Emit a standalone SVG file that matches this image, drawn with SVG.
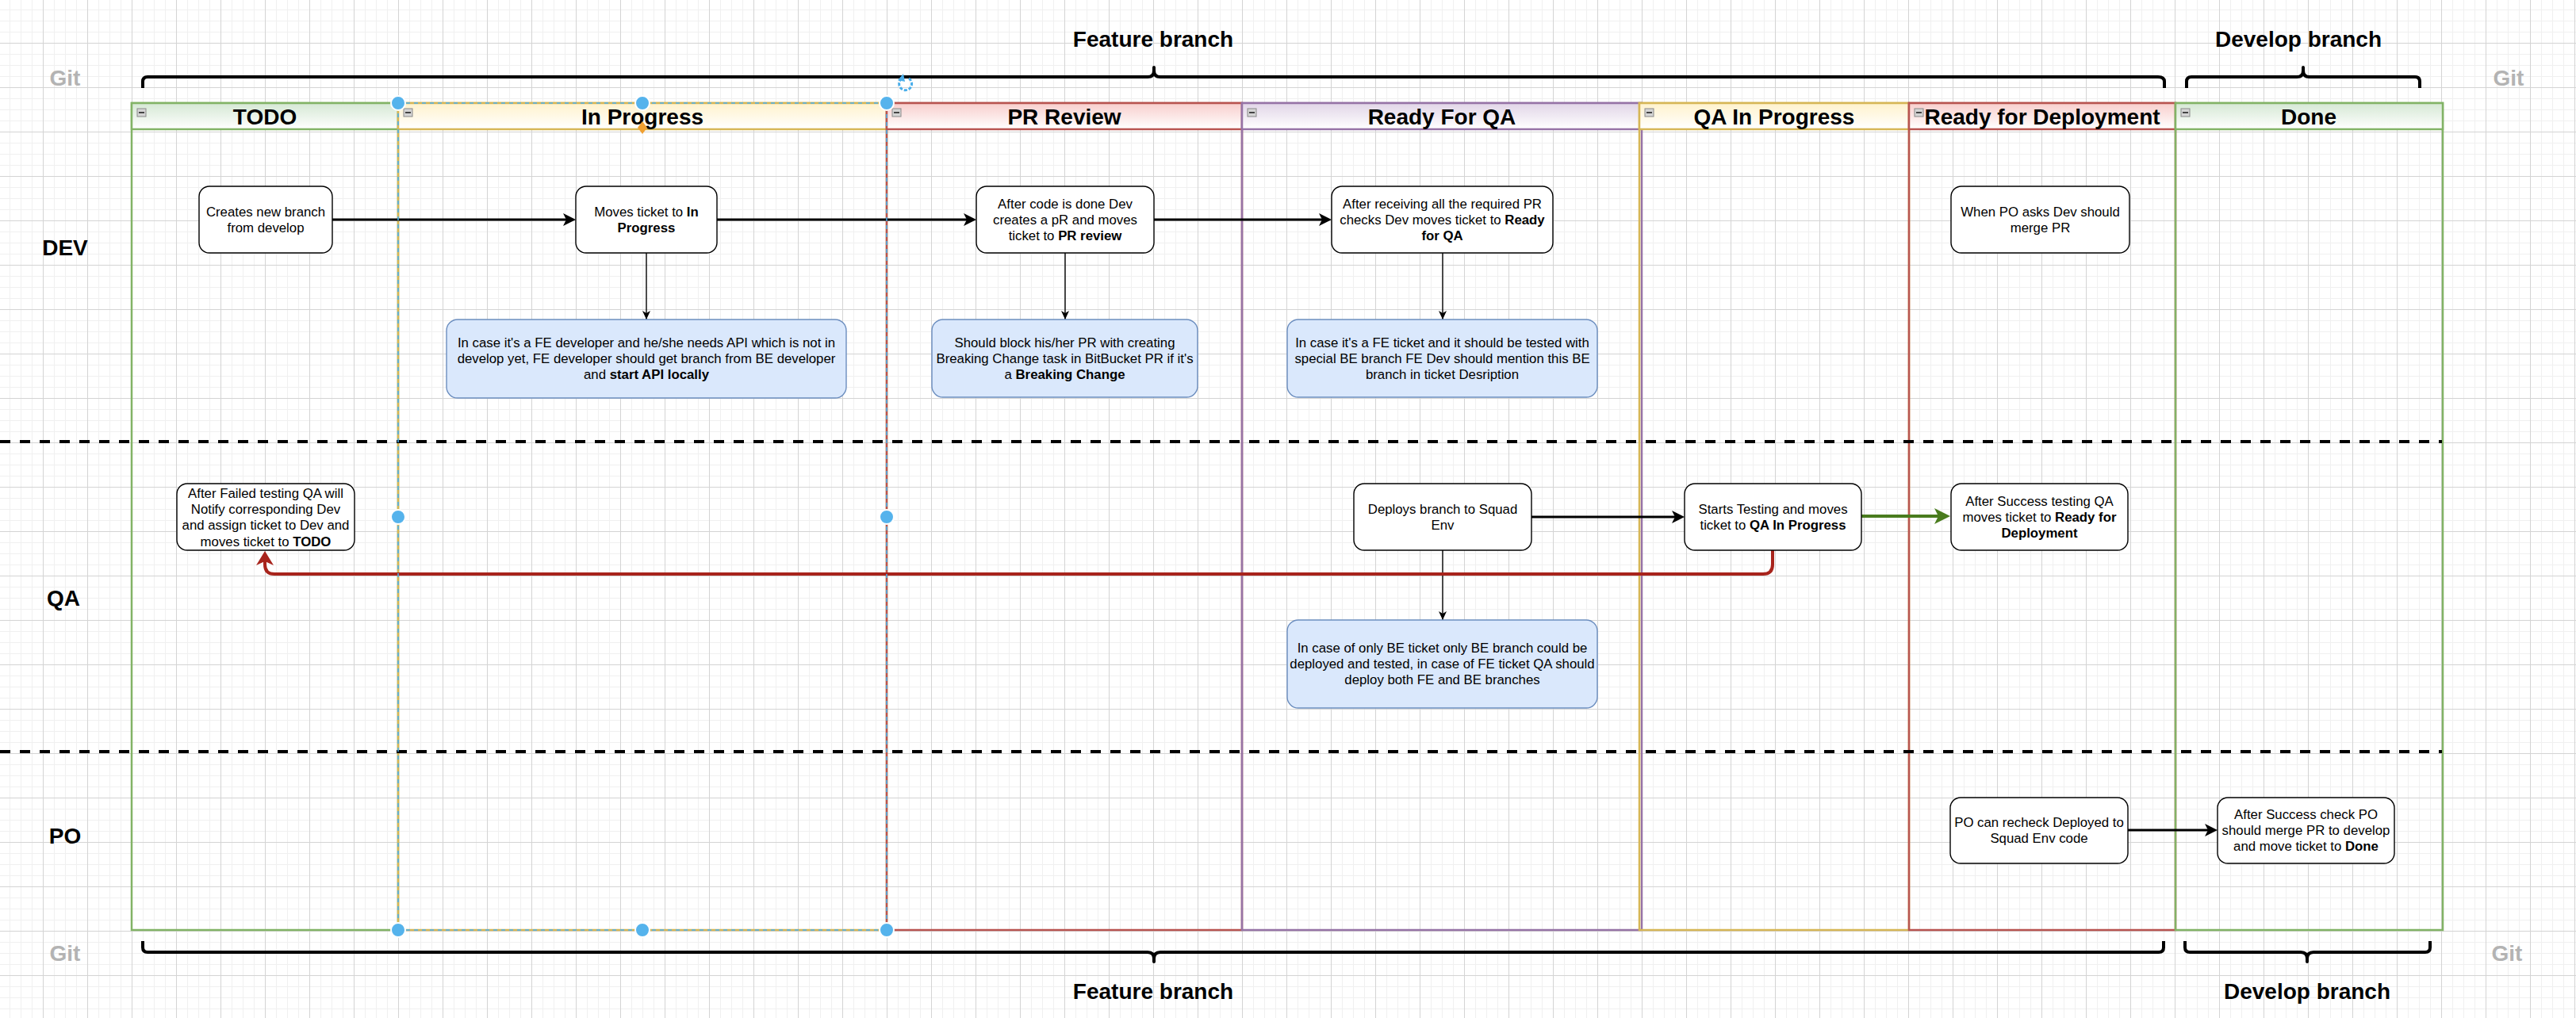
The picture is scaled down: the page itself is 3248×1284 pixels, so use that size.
<svg xmlns="http://www.w3.org/2000/svg" width="3248" height="1284" viewBox="0 0 3248 1284">
<defs>
<style>
.lane{fill:none;stroke-width:2.5}
.hdr{stroke-width:2.5}
.ht{font-family:"Liberation Sans",Arial,sans-serif;font-size:28px;font-weight:bold;fill:#000;text-anchor:middle}
.big{font-family:"Liberation Sans",Arial,sans-serif;font-size:28px;font-weight:bold;fill:#000;text-anchor:middle}
.git{font-family:"Liberation Sans",Arial,sans-serif;font-size:28px;font-weight:bold;fill:#b3b3b3;text-anchor:middle}
.box{fill:#fff;stroke:#000;stroke-width:1.4}
.note{fill:#dae8fc;stroke:#6c8ebf;stroke-width:1.4}
.t{font-family:"Liberation Sans",Arial,sans-serif;font-size:16.8px;fill:#000;text-anchor:middle}
.b{font-weight:bold}
.sep{fill:none;stroke:#000;stroke-width:4;stroke-dasharray:13 12}
.brace{fill:none;stroke:#000;stroke-width:4;stroke-linejoin:round}
.thick{fill:none;stroke:#000;stroke-width:2.8}
.thin{fill:none;stroke:#000;stroke-width:1.4}
.red{fill:none;stroke:#a8241c;stroke-width:4}
.green{fill:none;stroke:#4a7c1e;stroke-width:4}
.icon{fill:#d4d4d4;stroke:#8a8a8a;stroke-width:1}
.iconbar{fill:#444}
.handle{fill:#55b3ec;stroke:#fff;stroke-width:2}
</style>
<pattern id="grid" x="54" y="54" width="56" height="56" patternUnits="userSpaceOnUse">
<path d="M14.5 0V56M28.5 0V56M42.5 0V56M0 14.5H56M0 28.5H56M0 42.5H56" stroke="#f0f0f0" stroke-width="1"/>
<path d="M0.5 0V56M0 0.5H56" stroke="#d4d4d4" stroke-width="1"/>
</pattern>
<linearGradient id="gG" x1="0" y1="0" x2="0" y2="1"><stop offset="0" stop-color="#d5e8d4"/><stop offset="1" stop-color="#ffffff"/></linearGradient>
<linearGradient id="gY" x1="0" y1="0" x2="0" y2="1"><stop offset="0" stop-color="#fff2cc"/><stop offset="1" stop-color="#ffffff"/></linearGradient>
<linearGradient id="gR" x1="0" y1="0" x2="0" y2="1"><stop offset="0" stop-color="#f8cecc"/><stop offset="1" stop-color="#ffffff"/></linearGradient>
<linearGradient id="gP" x1="0" y1="0" x2="0" y2="1"><stop offset="0" stop-color="#e1d5e7"/><stop offset="1" stop-color="#ffffff"/></linearGradient>
<marker id="aBlack" markerUnits="userSpaceOnUse" markerWidth="24" markerHeight="24" refX="10" refY="8" orient="auto" overflow="visible"><path d="M0,0 L16,8 L0,16 L4,8 Z" fill="#000"/></marker>
<marker id="aThin" markerUnits="userSpaceOnUse" markerWidth="24" markerHeight="24" refX="11" refY="5" orient="auto" overflow="visible"><path d="M0,0 L11,5 L0,10 L3,5 Z" fill="#000"/></marker>
<marker id="aRed" markerUnits="userSpaceOnUse" markerWidth="30" markerHeight="30" refX="12" refY="11" orient="auto" overflow="visible"><path d="M0,0 L18,11 L0,22 L5,11 Z" fill="#a8241c"/></marker>
<marker id="aGreen" markerUnits="userSpaceOnUse" markerWidth="30" markerHeight="30" refX="14" refY="10" orient="auto" overflow="visible"><path d="M0,0 L20,10 L0,20 L5,10 Z" fill="#4a7c1e"/></marker>
</defs>

<rect x="0" y="0" width="3248" height="1284" fill="#fff"/>
<rect x="0" y="0" width="3248" height="1284" fill="url(#grid)"/>

<g id="labels">
<text class="git" x="82" y="108">Git</text>
<text class="git" x="3163" y="108">Git</text>
<text class="git" x="82" y="1212">Git</text>
<text class="git" x="3161" y="1212">Git</text>
<text class="big" x="1454" y="59">Feature branch</text>
<text class="big" x="2898" y="59">Develop branch</text>
<text class="big" x="1454" y="1260">Feature branch</text>
<text class="big" x="2909" y="1260">Develop branch</text>
<text class="big" x="82" y="322">DEV</text>
<text class="big" x="80" y="764">QA</text>
<text class="big" x="82" y="1064">PO</text>
</g>

<g id="braces">
<path class="brace" d="M180 111 V103 Q180 97 186 97 H1447 Q1455 97 1455 89 V85 V89 Q1455 97 1463 97 H2721 Q2729 97 2729 103 V111"/>
<path class="brace" d="M2757 111 V103 Q2757 97 2763 97 H2896 Q2904 97 2904 89 V85 V89 Q2904 97 2912 97 H3045 Q3051 97 3051 103 V111"/>
<path class="brace" d="M180 1187 V1195 Q180 1201 186 1201 H1447 Q1455 1201 1455 1209 V1213 V1209 Q1455 1201 1463 1201 H2722 Q2728 1201 2728 1195 V1187"/>
<path class="brace" d="M2755 1187 V1195 Q2755 1201 2761 1201 H2901 Q2909 1201 2909 1209 V1213 V1209 Q2909 1201 2917 1201 H3058 Q3064 1201 3064 1195 V1187"/>
</g>

<g id="lane-todo">
<rect class="lane" x="166" y="130" width="336" height="1043" stroke="#82b366"/>
<rect class="hdr" x="166" y="130" width="336" height="33" fill="url(#gG)" stroke="#82b366"/>
<rect class="icon" x="173" y="137" width="11" height="10"/><rect class="iconbar" x="175" y="141" width="7" height="2"/>
<text class="ht" x="334" y="157">TODO</text>
</g>
<g id="lane-inprogress">
<rect class="lane" x="502" y="130" width="616" height="1043" stroke="#d6b656"/>
<rect class="hdr" x="502" y="130" width="616" height="33" fill="url(#gY)" stroke="#d6b656"/>
<rect class="icon" x="509" y="137" width="11" height="10"/><rect class="iconbar" x="511" y="141" width="7" height="2"/>
<text class="ht" x="810" y="157">In Progress</text>
</g>
<g id="lane-prreview">
<rect class="lane" x="1118" y="130" width="448" height="1043" stroke="#b85450"/>
<rect class="hdr" x="1118" y="130" width="448" height="33" fill="url(#gR)" stroke="#b85450"/>
<rect class="icon" x="1125" y="137" width="11" height="10"/><rect class="iconbar" x="1127" y="141" width="7" height="2"/>
<text class="ht" x="1342" y="157">PR Review</text>
</g>
<g id="lane-readyforqa">
<rect class="lane" x="1566" y="130" width="504" height="1043" stroke="#9673a6"/>
<rect class="hdr" x="1566" y="130" width="504" height="33" fill="url(#gP)" stroke="#9673a6"/>
<rect class="icon" x="1573" y="137" width="11" height="10"/><rect class="iconbar" x="1575" y="141" width="7" height="2"/>
<text class="ht" x="1818" y="157">Ready For QA</text>
</g>
<g id="lane-qainprogress">
<rect class="lane" x="2067" y="130" width="340" height="1043" stroke="#d6b656"/>
<rect class="hdr" x="2067" y="130" width="340" height="33" fill="url(#gY)" stroke="#d6b656"/>
<rect class="icon" x="2074" y="137" width="11" height="10"/><rect class="iconbar" x="2076" y="141" width="7" height="2"/>
<text class="ht" x="2237" y="157">QA In Progress</text>
</g>
<g id="lane-readyfordeployment">
<rect class="lane" x="2407" y="130" width="336" height="1043" stroke="#b85450"/>
<rect class="hdr" x="2407" y="130" width="336" height="33" fill="url(#gR)" stroke="#b85450"/>
<rect class="icon" x="2414" y="137" width="11" height="10"/><rect class="iconbar" x="2416" y="141" width="7" height="2"/>
<text class="ht" x="2575" y="157">Ready for Deployment</text>
</g>
<g id="lane-done">
<rect class="lane" x="2743" y="130" width="337" height="1043" stroke="#82b366"/>
<rect class="hdr" x="2743" y="130" width="337" height="33" fill="url(#gG)" stroke="#82b366"/>
<rect class="icon" x="2750" y="137" width="11" height="10"/><rect class="iconbar" x="2752" y="141" width="7" height="2"/>
<text class="ht" x="2911" y="157">Done</text>
</g>

<g id="row-separators">
<path class="sep" d="M0 557 H3079"/>
<path class="sep" d="M0 948 H3079"/>
</g>

<g id="connectors">
<path class="thick" d="M419 277 H720" marker-end="url(#aBlack)"/>
<path class="thick" d="M904 277 H1225" marker-end="url(#aBlack)"/>
<path class="thick" d="M1455 277 H1673" marker-end="url(#aBlack)"/>
<path class="thin" d="M815 319 V403" marker-end="url(#aThin)"/>
<path class="thin" d="M1343 319 V403" marker-end="url(#aThin)"/>
<path class="thin" d="M1819 319 V403" marker-end="url(#aThin)"/>
<path class="thick" d="M1931 652 H2118" marker-end="url(#aBlack)"/>
<path class="thin" d="M1819 694 V782" marker-end="url(#aThin)"/>
<path class="green" d="M2347 651 H2453" marker-end="url(#aGreen)"/>
<path class="red" d="M2235 694 V712 Q2235 724 2223 724 H346 Q334 724 334 712 V701" marker-end="url(#aRed)"/>
<path class="thick" d="M2683 1047 H2790" marker-end="url(#aBlack)"/>
</g>

<g id="n-creates"><rect class="box" x="251" y="235" width="168" height="84" rx="13"/>
<text class="t" x="335" y="273"><tspan x="335">Creates new branch</tspan><tspan x="335" dy="20.2">from develop</tspan></text></g>
<g id="n-moves"><rect class="box" x="726" y="235" width="178" height="84" rx="13"/>
<text class="t" x="815" y="273"><tspan x="815">Moves ticket to <tspan class="b">In</tspan></tspan><tspan x="815" dy="20.2" class="b">Progress</tspan></text></g>
<g id="n-aftercode"><rect class="box" x="1231" y="235" width="224" height="84" rx="13"/>
<text class="t" x="1343" y="263"><tspan x="1343">After code is done Dev</tspan><tspan x="1343" dy="20.2">creates a pR and moves</tspan><tspan x="1343" dy="20.2">ticket to <tspan class="b">PR review</tspan></tspan></text></g>
<g id="n-afterreceiving"><rect class="box" x="1679" y="235" width="279" height="84" rx="13"/>
<text class="t" x="1818.5" y="263"><tspan x="1818.5">After receiving all the required PR</tspan><tspan x="1818.5" dy="20.2">checks Dev moves ticket to <tspan class="b">Ready</tspan></tspan><tspan x="1818.5" dy="20.2" class="b">for QA</tspan></text></g>
<g id="n-whenpo"><rect class="box" x="2460" y="235" width="225" height="84" rx="13"/>
<text class="t" x="2572.5" y="273"><tspan x="2572.5">When PO asks Dev should</tspan><tspan x="2572.5" dy="20.2">merge PR</tspan></text></g>

<g id="n-note-api"><rect class="note" x="563" y="403" width="504" height="99" rx="14"/>
<text class="t" x="815" y="438"><tspan x="815">In case it's a FE developer and he/she needs API which is not in</tspan><tspan x="815" dy="20.2">develop yet, FE developer should get branch from BE developer</tspan><tspan x="815" dy="20.2">and <tspan class="b">start API locally</tspan></tspan></text></g>
<g id="n-note-breaking"><rect class="note" x="1175" y="403" width="335" height="98" rx="14"/>
<text class="t" x="1342.5" y="438"><tspan x="1342.5">Should block his/her PR with creating</tspan><tspan x="1342.5" dy="20.2">Breaking Change task in BitBucket PR if it's</tspan><tspan x="1342.5" dy="20.2">a <tspan class="b">Breaking Change</tspan></tspan></text></g>
<g id="n-note-fe"><rect class="note" x="1623" y="403" width="391" height="98" rx="14"/>
<text class="t" x="1818.5" y="438"><tspan x="1818.5">In case it's a FE ticket and it should be tested with</tspan><tspan x="1818.5" dy="20.2">special BE branch FE Dev should mention this BE</tspan><tspan x="1818.5" dy="20.2">branch in ticket Desription</tspan></text></g>

<g id="n-afterfailed"><rect class="box" x="223" y="610" width="224" height="84" rx="13"/>
<text class="t" x="335" y="628"><tspan x="335">After Failed testing QA will</tspan><tspan x="335" dy="20.2">Notify corresponding Dev</tspan><tspan x="335" dy="20.2">and assign ticket to Dev and</tspan><tspan x="335" dy="20.2">moves ticket to <tspan class="b">TODO</tspan></tspan></text></g>
<g id="n-deploys"><rect class="box" x="1707" y="610" width="224" height="84" rx="13"/>
<text class="t" x="1819" y="648"><tspan x="1819">Deploys branch to Squad</tspan><tspan x="1819" dy="20.2">Env</tspan></text></g>
<g id="n-note-be"><rect class="note" x="1623" y="782" width="391" height="111" rx="14"/>
<text class="t" x="1818.5" y="823"><tspan x="1818.5">In case of only BE ticket only BE branch could be</tspan><tspan x="1818.5" dy="20.2">deployed and tested, in case of FE ticket QA should</tspan><tspan x="1818.5" dy="20.2">deploy both FE and BE branches</tspan></text></g>
<g id="n-starts"><rect class="box" x="2124" y="610" width="223" height="84" rx="13"/>
<text class="t" x="2235.5" y="648"><tspan x="2235.5">Starts Testing and moves</tspan><tspan x="2235.5" dy="20.2">ticket to <tspan class="b">QA In Progress</tspan></tspan></text></g>
<g id="n-aftersuccesstesting"><rect class="box" x="2460" y="610" width="223" height="84" rx="13"/>
<text class="t" x="2571.5" y="638"><tspan x="2571.5">After Success testing QA</tspan><tspan x="2571.5" dy="20.2">moves ticket to <tspan class="b">Ready for</tspan></tspan><tspan x="2571.5" dy="20.2" class="b">Deployment</tspan></text></g>

<g id="n-porecheck"><rect class="box" x="2459" y="1006" width="224" height="83" rx="13"/>
<text class="t" x="2571" y="1043"><tspan x="2571">PO can recheck Deployed to</tspan><tspan x="2571" dy="20.2">Squad Env code</tspan></text></g>
<g id="n-aftersuccesscheck"><rect class="box" x="2796" y="1006" width="223" height="83" rx="13"/>
<text class="t" x="2907.5" y="1033"><tspan x="2907.5">After Success check PO</tspan><tspan x="2907.5" dy="20.2">should merge PR to develop</tspan><tspan x="2907.5" dy="20.2">and move ticket to <tspan class="b">Done</tspan></tspan></text></g>

<g id="selection">
<rect x="502" y="130" width="616" height="1043" fill="none" stroke="#4aaeea" stroke-width="1.6" stroke-dasharray="5 5"/>
<circle class="handle" cx="502" cy="130" r="9"/>
<circle class="handle" cx="810" cy="130" r="9"/>
<circle class="handle" cx="1118" cy="130" r="9"/>
<circle class="handle" cx="502" cy="652" r="9"/>
<circle class="handle" cx="1118" cy="652" r="9"/>
<circle class="handle" cx="502" cy="1173" r="9"/>
<circle class="handle" cx="810" cy="1173" r="9"/>
<circle class="handle" cx="1118" cy="1173" r="9"/>
<path d="M810 153 L816 161 L810 169 L804 161 Z" fill="#f0a030"/>
<path d="M1146 99 A8 8 0 1 1 1136 100" fill="none" stroke="#4aaeea" stroke-width="3" stroke-dasharray="4 2"/>
<path d="M1139 93 L1141 103 L1132 101 Z" fill="#4aaeea"/>
</g>
</svg>
